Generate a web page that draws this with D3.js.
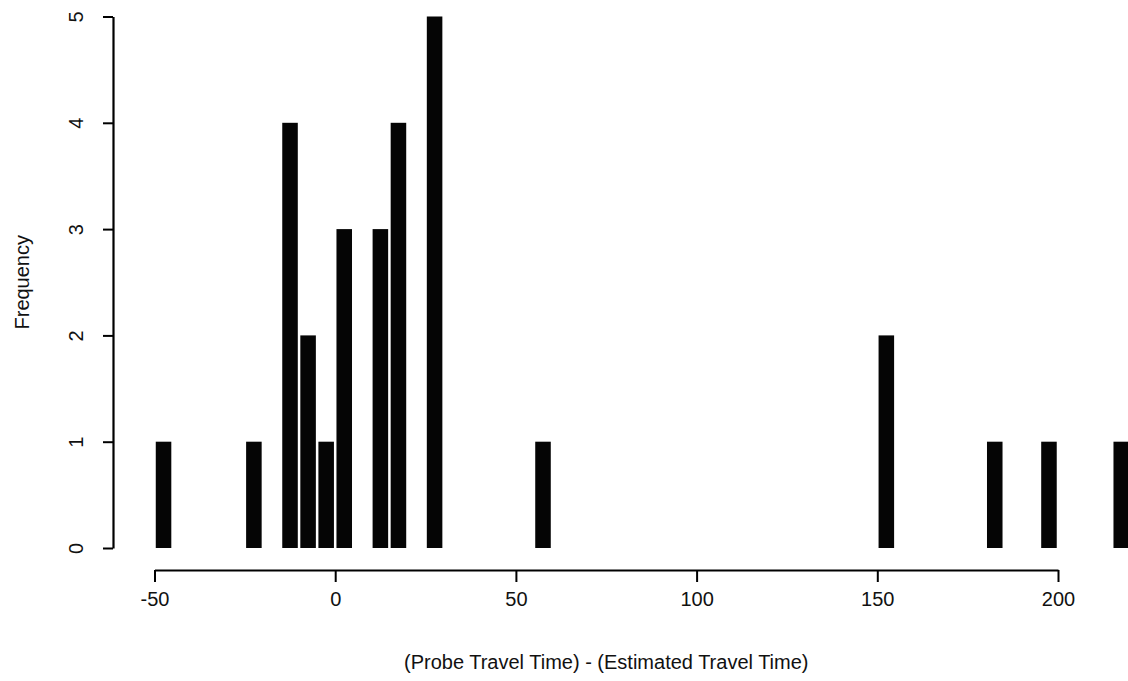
<!DOCTYPE html>
<html>
<head>
<meta charset="utf-8">
<script src="https://cdn.jsdelivr.net/npm/d3@7"></script>
<style>
  html, body { margin: 0; padding: 0; background: #fff; }
  svg { display: block; }
  text { font-family: "Liberation Sans", Arial, Helvetica, sans-serif; fill: #111; }
</style>
</head>
<body>
<svg id="chart" width="1128" height="681"></svg>
<script>
// Histogram bins (left edge, width 5) and their counts
const binStarts = [-50, -25, -15, -10, -5, 0, 10, 15, 25, 55, 150, 180, 195, 215];
const counts    = [  1,   1,   4,   2,  1, 3,  3,  4,  5,  1,   2,   1,   1,   1];
const binWidth = 5;
const xTicks = [-50, 0, 50, 100, 150, 200];
const yTicks = [0, 1, 2, 3, 4, 5];
const xTitle = "(Probe Travel Time) - (Estimated Travel Time)";
const yTitle = "Frequency";

const svg = d3.select("#chart");
const x = d3.scaleLinear().domain([-50, 200]).range([154.5, 1058]);
const y = d3.scaleLinear().domain([0, 5]).range([548, 16.5]);

const bins = binStarts.map((b, i) => ({ x0: b, x1: b + binWidth, n: counts[i] }));

// bars (drawn narrower than the bin, centred)
const frac = 0.86;
svg.append("g").selectAll("rect").data(bins).join("rect")
  .attr("x", d => { const w = x(d.x1) - x(d.x0); return x(d.x0) + w * (1 - frac) / 2; })
  .attr("width", d => (x(d.x1) - x(d.x0)) * frac)
  .attr("y", d => y(d.n))
  .attr("height", d => y(0) - y(d.n))
  .attr("fill", "#050505");

// x axis
const xAxis = d3.axisBottom(x).tickValues(xTicks).tickSize(12).tickSizeOuter(0).tickPadding(10)
  .tickFormat(d => String(d));
const gx = svg.append("g").attr("transform", "translate(0,570)").call(xAxis);
gx.select(".domain").attr("stroke", "#000").attr("stroke-width", 2.2);
gx.selectAll(".tick line").attr("stroke", "#000").attr("stroke-width", 2);
gx.selectAll(".tick text").attr("font-size", 20).attr("fill", "#111")
  .attr("font-family", "Liberation Sans, Arial, sans-serif");

// y axis
const yAxis = d3.axisLeft(y).tickValues(yTicks).tickSize(10).tickSizeOuter(0).tickPadding(0)
  .tickFormat(d => String(d));
const gy = svg.append("g").attr("transform", "translate(113,0)").call(yAxis);
gy.select(".domain").attr("stroke", "#000").attr("stroke-width", 2.2);
gy.selectAll(".tick line").attr("stroke", "#000").attr("stroke-width", 2);
gy.selectAll(".tick text")
  .attr("font-size", 20).attr("fill", "#111")
  .attr("font-family", "Liberation Sans, Arial, sans-serif")
  .attr("x", null).attr("dy", null)
  .attr("text-anchor", "middle")
  .attr("transform", "translate(-30,0) rotate(-90)");

// titles
svg.append("text")
  .attr("x", (x(-50) + x(200)) / 2).attr("y", 669)
  .attr("text-anchor", "middle").attr("font-size", 20)
  .text(xTitle);

svg.append("text")
  .attr("transform", "translate(29," + ((y(0) + y(5)) / 2) + ") rotate(-90)")
  .attr("text-anchor", "middle").attr("font-size", 20)
  .text(yTitle);
</script>
</body>
</html>
